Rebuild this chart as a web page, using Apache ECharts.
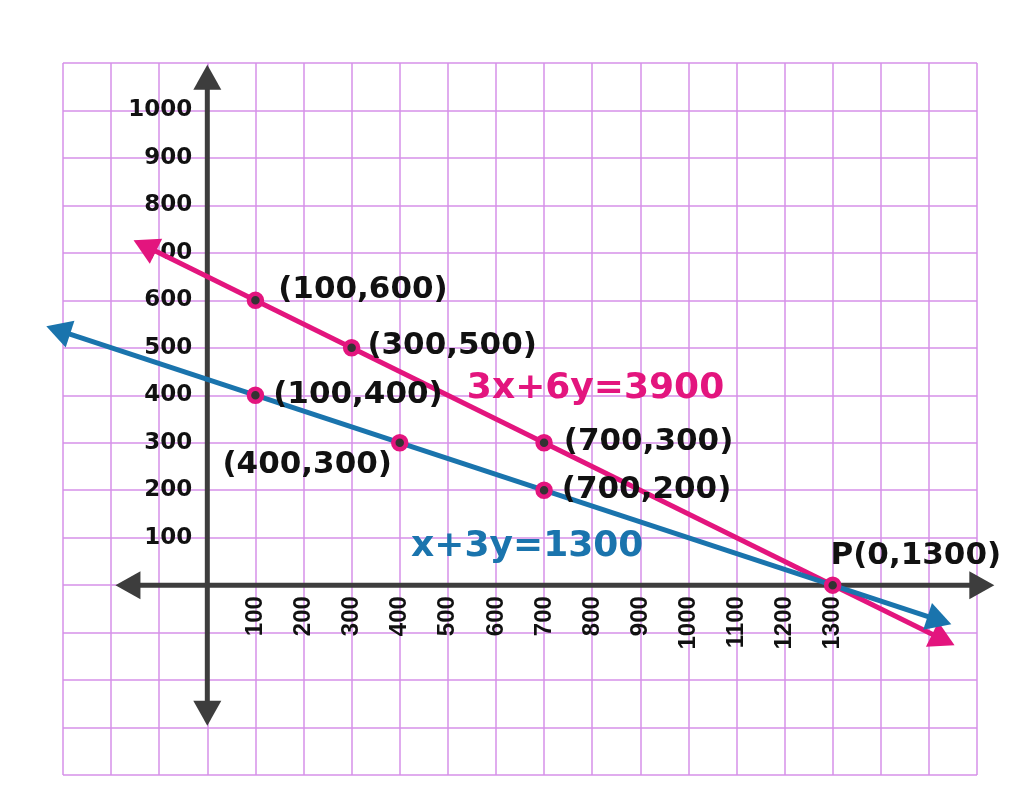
<!DOCTYPE html>
<html>
<head>
<meta charset="utf-8">
<title>3x+6y=3900 and x+3y=1300</title>
<script src="https://cdn.jsdelivr.net/npm/echarts@6/dist/echarts.min.js"></script>
<style>
  html, body { margin: 0; padding: 0; background: #ffffff; }
  #chart { width: 1023px; height: 803px; }
</style>
</head>
<body>
<div id="chart"></div>
<script>
// tick labels that are printed on the axes
var xLabels = [100, 200, 300, 400, 500, 600, 700, 800, 900, 1000, 1100, 1200, 1300];
var yLabels = [100, 200, 300, 400, 500, 600, 700, 800, 900, 1000];

// marked points
var pinkPoints = [[100, 600], [300, 500], [700, 300]];
var bluePoints = [[100, 400], [400, 300], [700, 200]];
var crossPoint = [1300, 0];
var crossName = "P(0,1300)";

// the two lines, end to end (arrow heads at both ends)
var pinkLine = [[-130, 715], [1530, -115]];
var blueLine = [[-310, 537], [1522, -74]];
var pinkEquation = "3x+6y=3900";
var blueEquation = "x+3y=1300";
var pinkEquationAt = [807, 414];
var blueEquationAt = [665, 82];

// the drawn axes with arrows
var xAxisEnds = [[-165, 0], [1610, 0]];
var yAxisEnds = [[0, 1070], [0, -270]];

var PINK = "#e3157e";
var BLUE = "#1a74ad";
var AXIS = "#3d3d3d";
var GRID = "#d690e8";
var FONT = "DejaVu Sans";

var chart = echarts.init(document.getElementById("chart"));

// label placement for each point, same order as the arrays above
var pinkLabelPos = [["right", [9, -10]], ["right", [2, -2]], ["right", [6, -1]]];
var blueLabelPos = [["right", [4, 0]], ["left", [6, 22]], ["right", [4, 0]]];

function pointData(points, pos) {
  return points.map(function (p, i) {
    return {
      value: p,
      name: "(" + p[0] + "," + p[1] + ")",
      label: { position: pos[i][0], offset: pos[i][1] }
    };
  });
}

function arrowSeries(id, ends, color, z) {
  return {
    id: id,
    type: "line",
    data: ends,
    z: z,
    clip: false,
    silent: true,
    symbol: "triangle",
    symbolSize: [28, 25],
    showSymbol: true,
    showAllSymbol: true,
    lineStyle: { color: color, width: 5 },
    itemStyle: { color: color, opacity: 1 },
    emphasis: { disabled: true }
  };
}

var pointStyle = {
  type: "scatter",
  symbol: "circle",
  symbolSize: 13,
  z: 10,
  silent: true,
  itemStyle: { color: "#333333", borderColor: PINK, borderWidth: 4.5, opacity: 1 },
  label: {
    show: true,
    formatter: "{b}",
    color: "#111111",
    fontFamily: FONT,
    fontWeight: "bold",
    fontSize: 31
  }
};

var axisCommon = {
  type: "value",
  interval: 100,
  axisLine: { show: false, onZero: false },
  axisTick: { show: false },
  splitLine: { show: true, showMinLine: true, showMaxLine: true, lineStyle: { color: GRID, width: 1.5 } }
};

var option = {
  backgroundColor: "#ffffff",
  animation: false,
  grid: { left: 63, right: 46, top: 63, bottom: 28, containLabel: false, outerBoundsMode: "none" },
  xAxis: Object.assign({}, axisCommon, {
    id: "x",
    min: -300,
    max: 1600,
    axisLabel: {
      rotate: 90,
      margin: 11,
      color: "#111111",
      fontFamily: "Liberation Sans",
      fontWeight: "bold",
      fontSize: 24,
      formatter: function (v) { return xLabels.indexOf(v) >= 0 ? String(v) : ""; }
    }
  }),
  yAxis: Object.assign({}, axisCommon, {
    id: "y",
    min: -400,
    max: 1100,
    axisLabel: {
      margin: 15,
      color: "#111111",
      fontFamily: FONT,
      fontWeight: "bold",
      fontSize: 23,
      formatter: function (v) { return yLabels.indexOf(v) >= 0 ? String(v) : ""; }
    }
  }),
  series: [
    arrowSeries("xaxis", xAxisEnds, AXIS, 2),
    arrowSeries("yaxis", yAxisEnds, AXIS, 2),
    arrowSeries("pink", pinkLine, PINK, 3),
    arrowSeries("blue", blueLine, BLUE, 4),
    Object.assign({}, pointStyle, { name: "pinkPts", data: pointData(pinkPoints, pinkLabelPos) }),
    Object.assign({}, pointStyle, { name: "bluePts", data: pointData(bluePoints, blueLabelPos) }),
    Object.assign({}, pointStyle, {
      name: "P",
      data: [{ value: crossPoint, name: crossName, label: { position: "right", offset: [-16, -29] } }]
    }),
    {
      type: "scatter",
      symbol: "circle",
      symbolSize: 0,
      z: 12,
      silent: true,
      itemStyle: { color: "rgba(0,0,0,0)", opacity: 1 },
      label: {
        show: true,
        position: [0, 0],
        align: "center",
        verticalAlign: "middle",
        formatter: "{b}",
        fontFamily: FONT,
        fontWeight: "bold",
        fontSize: 36,
        textBorderWidth: 0
      },
      data: [
        { value: pinkEquationAt, name: pinkEquation, label: { color: PINK } },
        { value: blueEquationAt, name: blueEquation, label: { color: BLUE } }
      ]
    }
  ]
};

chart.setOption(option);

// point each arrow head along its line, using the chart's own scales
function withArrows(ends) {
  var a = chart.convertToPixel({ gridIndex: 0 }, ends[0]);
  var b = chart.convertToPixel({ gridIndex: 0 }, ends[1]);
  var toB = Math.atan2(-(b[1] - a[1]), b[0] - a[0]) * 180 / Math.PI - 90;
  var toA = Math.atan2(-(a[1] - b[1]), a[0] - b[0]) * 180 / Math.PI - 90;
  return [
    { value: ends[0], symbolRotate: toA },
    { value: ends[1], symbolRotate: toB }
  ];
}

// move the tick labels onto the zero lines (axes cross at the origin)
var zeroY = chart.convertToPixel({ yAxisIndex: 0 }, 0);
var bottomY = chart.convertToPixel({ yAxisIndex: 0 }, -400);
var zeroX = chart.convertToPixel({ xAxisIndex: 0 }, 0);
var leftX = chart.convertToPixel({ xAxisIndex: 0 }, -300);

chart.setOption({
  xAxis: { id: "x", offset: -(bottomY - zeroY) },
  yAxis: { id: "y", offset: -(zeroX - leftX) },
  series: [
    { id: "xaxis", data: withArrows(xAxisEnds) },
    { id: "yaxis", data: withArrows(yAxisEnds) },
    { id: "pink", data: withArrows(pinkLine) },
    { id: "blue", data: withArrows(blueLine) }
  ]
});
</script>
</body>
</html>
